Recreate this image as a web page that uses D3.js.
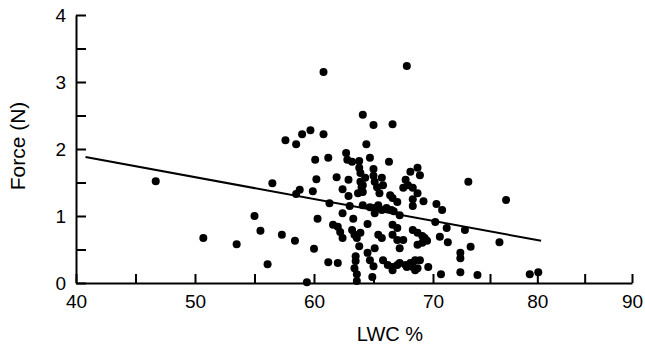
<!DOCTYPE html>
<html>
<head>
<meta charset="utf-8">
<script src="https://cdn.jsdelivr.net/npm/d3@7"></script>
<style>
  html, body { margin: 0; padding: 0; background: #fff; }
  svg { display: block; font-family: "Liberation Sans", Arial, Helvetica, sans-serif; }
  .axis path, .axis line { stroke: #000; }
  .axis text { fill: #000; }
</style>
</head>
<body>
<svg id="chart" width="645" height="351"></svg>
<script>
// Leaf water content (%) against force (N), one entry per sample
const lwc = [
  46.7, 50.7, 53.5, 55.0, 55.5, 56.1, 56.5, 57.3, 57.6, 58.5,
  59.0, 59.7, 60.8, 60.8, 58.5, 58.8, 58.4, 59.4, 60.1, 60.2,
  59.9, 60.0, 60.3, 61.2, 61.3, 61.2, 62.0, 61.9, 62.4, 62.4,
  62.7, 62.8, 62.9, 62.9, 63.0, 63.2, 63.8, 63.8, 63.9, 64.0,
  64.1, 63.7, 64.1, 64.4, 65.0, 66.6, 67.8, 63.3, 61.6, 62.0,
  62.2, 62.4, 63.2, 63.4, 63.9, 63.6, 64.5, 63.8, 63.5, 63.5,
  63.4, 63.6, 63.6, 64.5, 64.7, 65.0, 64.9, 64.7, 65.0, 63.9,
  64.3, 64.1, 65.0, 65.1, 65.3, 65.7, 65.8, 65.5, 66.4, 66.6,
  66.3, 68.1, 68.7, 68.9, 67.7, 67.9, 67.5, 68.3, 68.7, 68.3,
  69.2, 68.3, 70.3, 70.8, 64.1, 64.7, 65.1, 65.4, 65.7, 66.1,
  66.5, 66.7, 65.1, 67.2, 67.0, 66.6, 67.0, 66.6, 68.3, 68.7,
  69.1, 69.3, 70.2, 70.6, 71.2, 72.8, 65.4, 65.7, 67.0, 67.5,
  67.2, 68.7, 69.5, 69.1, 65.1, 65.8, 66.2, 66.6, 66.6, 67.0,
  67.2, 67.8, 68.1, 68.3, 68.5, 68.9, 68.7, 69.6, 67.7, 68.5,
  70.7, 72.4, 72.4, 72.4, 71.3, 73.3, 73.1, 76.7, 76.0, 73.9,
  79.2, 80.1
];
const force = [
  1.52, 0.67, 0.58, 1.00, 0.78, 0.28, 1.49, 0.72, 2.13, 2.07,
  2.22, 2.28, 2.22, 3.15, 1.33, 1.39, 0.63, 0.01, 1.84, 1.55,
  1.37, 0.51, 0.96, 1.87, 1.19, 0.31, 0.30, 1.58, 1.40, 1.04,
  1.94, 1.84, 1.54, 1.30, 1.15, 1.81, 1.82, 1.72, 1.51, 1.43,
  1.36, 1.34, 2.51, 2.07, 2.36, 2.37, 3.24, 0.96, 0.87, 0.84,
  0.76, 0.67, 0.79, 0.72, 0.75, 0.67, 0.88, 0.55, 0.40, 0.33,
  0.22, 0.13, 0.03, 0.45, 0.34, 0.25, 0.09, 1.87, 1.70, 1.64,
  1.57, 1.46, 1.60, 1.51, 1.43, 1.57, 1.46, 1.34, 1.31, 1.27,
  1.81, 1.66, 1.72, 1.61, 1.54, 1.46, 1.42, 1.42, 1.34, 1.25,
  1.22, 1.15, 1.18, 1.09, 1.16, 1.13, 1.12, 1.16, 1.09, 1.12,
  1.09, 1.07, 1.04, 1.01, 1.21, 0.87, 0.82, 0.72, 0.79, 0.75,
  0.70, 0.67, 0.91, 0.69, 0.82, 0.79, 0.72, 0.67, 0.64, 0.64,
  0.52, 0.57, 0.63, 0.60, 0.52, 0.34, 0.27, 0.24, 0.19, 0.27,
  0.30, 0.24, 0.30, 0.24, 0.34, 0.34, 0.22, 0.24, 0.27, 0.19,
  0.13, 0.45, 0.37, 0.16, 0.61, 0.54, 1.51, 1.24, 0.61, 0.12,
  0.13, 0.16
];

// Fitted trend line, start and end
const fitX = [40.8, 80.4];
const fitY = [1.88, 0.63];

// Axis ticks
const xTicks = [40, 45, 50, 55, 60, 65, 70, 75, 80, 85, 90];
const xLabels = [40, 50, 60, 70, 80, 90];
const yTicks = [0, 0.5, 1, 1.5, 2, 2.5, 3, 3.5, 4];
const yLabels = [0, 1, 2, 3, 4];

const svg = d3.select("#chart");

// The printed x axis is stretched unevenly; the scale follows its tick marks
const x = d3.scaleLinear()
  .domain([40, 70, 75, 90])
  .range([76, 433, 490, 632]);
const y = d3.scaleLinear().domain([0, 4]).range([283, 15]);

const xAxis = svg.append("g")
  .attr("class", "axis")
  .attr("transform", `translate(0,${y(0)})`)
  .call(d3.axisBottom(x)
    .tickValues(xTicks)
    .tickSizeInner(-9)
    .tickSizeOuter(0)
    .tickPadding(12)
    .tickFormat(d => xLabels.includes(d) ? d : ""));
xAxis.select(".domain").attr("stroke-width", 2);
xAxis.selectAll(".tick line").attr("stroke-width", 2);
xAxis.selectAll("text").attr("font-size", 19).attr("font-family", "Liberation Sans, Arial, sans-serif");

const yAxis = svg.append("g")
  .attr("class", "axis")
  .attr("transform", `translate(${x(40)},0)`)
  .call(d3.axisLeft(y)
    .tickValues(yTicks)
    .tickSizeInner(-10)
    .tickSizeOuter(0)
    .tickPadding(10)
    .tickFormat(d => yLabels.includes(d) ? d : ""));
yAxis.select(".domain").attr("stroke-width", 2);
yAxis.selectAll(".tick line").attr("stroke-width", 2);
yAxis.selectAll("text").attr("font-size", 19).attr("font-family", "Liberation Sans, Arial, sans-serif");

// Axis titles
svg.append("text")
  .attr("x", 390)
  .attr("y", 341)
  .attr("text-anchor", "middle")
  .attr("font-size", 20)
  .text("LWC %");

svg.append("text")
  .attr("transform", "translate(25,146) rotate(-90)")
  .attr("text-anchor", "middle")
  .attr("font-size", 21)
  .text("Force (N)");

// Trend line
svg.append("path")
  .datum(fitX.map((v, i) => [v, fitY[i]]))
  .attr("fill", "none")
  .attr("stroke", "#000")
  .attr("stroke-width", 2)
  .attr("d", d3.line().x(d => x(d[0])).y(d => y(d[1])));

// Samples
svg.append("g")
  .selectAll("circle")
  .data(lwc.map((v, i) => [v, force[i]]))
  .join("circle")
  .attr("cx", d => x(d[0]))
  .attr("cy", d => y(d[1]))
  .attr("r", 4)
  .attr("fill", "#000");
</script>
</body>
</html>
